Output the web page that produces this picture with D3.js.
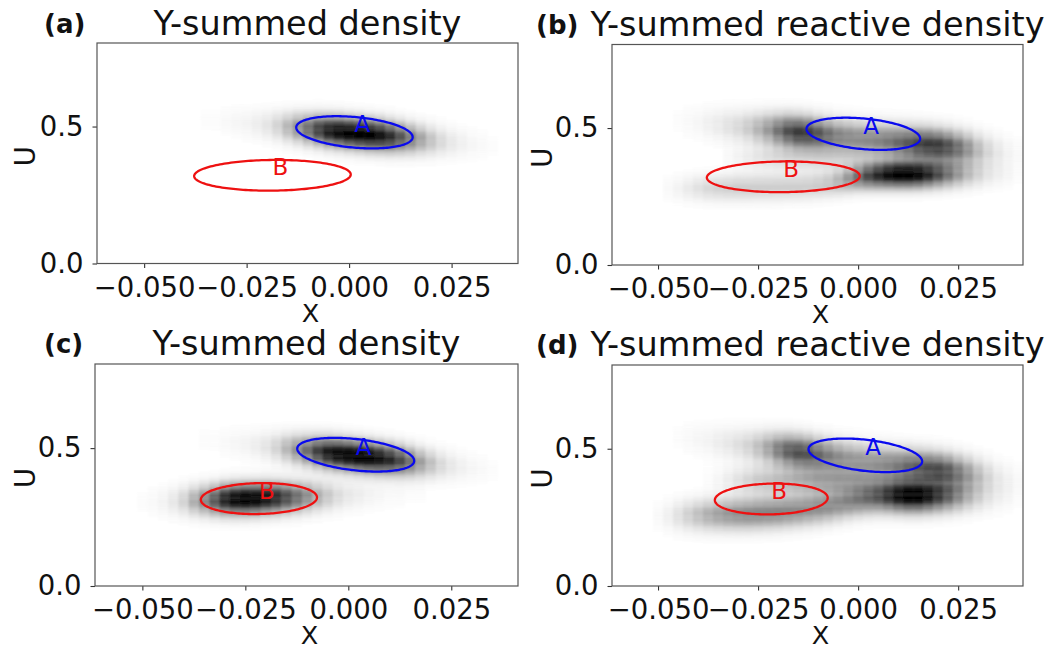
<!DOCTYPE html>
<html><head><meta charset="utf-8">
<script src="https://cdn.jsdelivr.net/npm/d3@7"></script>
<style>
body{margin:0;background:#fff}
svg{display:block}
text{font-family:"DejaVu Sans",sans-serif}
</style>
</head><body>
<svg id="fig" width="1056" height="651"></svg>
<script>
// ---------------- data ----------------
const colX = [-0.05,-0.0475,-0.045,-0.0425,-0.04,-0.0375,-0.035,-0.0325,-0.03,-0.0275,
  -0.025,-0.0225,-0.02,-0.0175,-0.015,-0.0125,-0.01,-0.0075,-0.005,-0.0025,
  0,0.0025,0.005,0.0075,0.01,0.0125,0.015,0.0175,0.02,0.0225,
  0.025,0.0275,0.03,0.0325,0.035,0.0375,0.04];
const xTicks = [-0.05,-0.025,0,0.025];
const uTicks = [0,0.5];
const panelLetters = ["(a)","(b)","(c)","(d)"];
const panelTitles = ["Y-summed density","Y-summed reactive density","Y-summed density","Y-summed reactive density"];
const regionNames = ["A","B"];

// panel (a): density band around A
const aA_u = [0.548,0.545,0.541,0.538,0.534,0.531,0.527,0.524,0.520,0.517,
  0.513,0.510,0.506,0.503,0.499,0.496,0.492,0.489,0.485,0.482,
  0.478,0.475,0.471,0.468,0.464,0.461,0.457,0.454,0.450,0.447,
  0.443,0.440,0.436,0.433,0.429,0.426,0.422];
const aA_p = [0,0,0,0,0,0,0.01,0.01,0.02,0.03,
  0.04,0.06,0.09,0.15,0.25,0.38,0.52,0.70,0.85,0.94,
  0.98,1.00,0.97,0.90,0.78,0.62,0.46,0.32,0.21,0.13,
  0.08,0.05,0.03,0.02,0.01,0,0];

// panel (b): reactive density, upper and lower bands
const bUp_u = [0.534,0.531,0.527,0.524,0.520,0.517,0.513,0.510,0.506,0.503,
  0.499,0.496,0.492,0.489,0.485,0.482,0.478,0.475,0.471,0.468,
  0.464,0.461,0.457,0.454,0.450,0.447,0.443,0.440,0.436,0.433,
  0.429,0.426,0.422,0.419,0.415,0.412,0.408];
const bUp_p = [0,0,0.01,0.02,0.03,0.05,0.07,0.10,0.13,0.18,
  0.26,0.36,0.50,0.64,0.72,0.70,0.62,0.52,0.45,0.42,
  0.41,0.42,0.44,0.48,0.54,0.60,0.68,0.72,0.72,0.64,
  0.52,0.38,0.24,0.14,0.08,0.04,0.02];
const bLo_u = [0.280,0.280,0.281,0.281,0.282,0.282,0.283,0.283,0.284,0.284,
  0.285,0.285,0.286,0.287,0.288,0.290,0.293,0.298,0.305,0.314,
  0.322,0.327,0.330,0.332,0.333,0.333,0.333,0.333,0.333,0.333,
  0.333,0.333,0.333,0.333,0.333,0.333,0.333];
const bLo_p = [0,0.02,0.04,0.07,0.10,0.13,0.15,0.16,0.17,0.17,
  0.17,0.17,0.17,0.17,0.17,0.17,0.18,0.20,0.26,0.36,
  0.50,0.66,0.80,0.92,1.00,1.00,0.94,0.80,0.64,0.48,
  0.34,0.22,0.14,0.08,0.05,0.03,0.01];
const bMid_p = [0,0,0,0,0,0,0,0.02,0.04,0.06,
  0.08,0.10,0.11,0.12,0.12,0.12,0.12,0.12,0.11,0.10,
  0.08,0.05,0.03,0.01,0,0,0,0,0,0,
  0,0,0,0,0,0,0];

// panel (c): density around A and around B
const cA_u = [0.556,0.552,0.548,0.544,0.540,0.536,0.532,0.528,0.524,0.520,
  0.516,0.512,0.508,0.504,0.500,0.496,0.492,0.488,0.484,0.480,
  0.476,0.472,0.468,0.464,0.460,0.456,0.452,0.448,0.444,0.440,
  0.436,0.432,0.428,0.424,0.420,0.416,0.412];
const cA_p = [0,0,0,0,0,0,0.01,0.01,0.02,0.03,
  0.04,0.06,0.09,0.15,0.25,0.38,0.52,0.70,0.86,0.95,
  0.99,1.00,0.97,0.90,0.80,0.66,0.50,0.34,0.22,0.13,
  0.08,0.05,0.03,0.02,0.01,0,0];
const cB_u = [0.305,0.306,0.307,0.308,0.310,0.311,0.312,0.313,0.315,0.316,
  0.317,0.318,0.320,0.321,0.322,0.323,0.325,0.326,0.327,0.328,
  0.330,0.331,0.332,0.333,0.335,0.336,0.337,0.338,0.340,0.341,
  0.342,0.343,0.345,0.346,0.347,0.348,0.350];
const cB_p = [0.01,0.02,0.04,0.08,0.15,0.28,0.42,0.60,0.82,0.95,
  1.00,0.97,0.90,0.80,0.66,0.52,0.40,0.28,0.19,0.12,
  0.08,0.06,0.04,0.03,0.02,0.02,0.01,0.01,0,0,
  0,0,0,0,0,0,0];

// panel (d): reactive density, upper, middle and lower bands
const dUp_u = [0.552,0.548,0.543,0.539,0.534,0.530,0.525,0.521,0.516,0.512,
  0.507,0.503,0.498,0.494,0.489,0.485,0.480,0.476,0.471,0.467,
  0.462,0.458,0.453,0.449,0.444,0.440,0.435,0.431,0.426,0.422,
  0.417,0.413,0.408,0.404,0.399,0.395,0.390];
const dUp_p = [0,0,0.01,0.02,0.03,0.04,0.06,0.08,0.11,0.15,
  0.22,0.32,0.46,0.58,0.64,0.62,0.54,0.46,0.40,0.36,
  0.35,0.35,0.37,0.40,0.45,0.52,0.58,0.62,0.64,0.58,
  0.46,0.34,0.22,0.13,0.07,0.04,0.02];
const dMid_p = [0,0,0,0,0,0.01,0.03,0.06,0.10,0.14,
  0.18,0.20,0.22,0.24,0.26,0.28,0.30,0.30,0.30,0.28,
  0.25,0.20,0.15,0.10,0.06,0.03,0,0,0,0,
  0,0,0,0,0,0,0];
const dLo_u = [0.255,0.256,0.257,0.258,0.259,0.260,0.261,0.262,0.263,0.264,
  0.266,0.268,0.270,0.273,0.276,0.280,0.285,0.291,0.298,0.306,
  0.314,0.321,0.326,0.329,0.330,0.330,0.330,0.330,0.330,0.330,
  0.330,0.330,0.330,0.330,0.330,0.330,0.330];
const dLo_p = [0.02,0.05,0.10,0.16,0.22,0.28,0.33,0.37,0.40,0.42,
  0.43,0.43,0.43,0.42,0.41,0.40,0.40,0.40,0.40,0.42,
  0.46,0.52,0.60,0.74,0.90,1.00,1.00,0.88,0.72,0.56,
  0.40,0.26,0.16,0.09,0.05,0.03,0.01];

// ellipses: [centre x, centre u, half-width in x, half-height in u, tilt du/dx]
const ellTopA = [0.0013, 0.479, 0.0142, 0.056, -1.25];
const ellTopB = [-0.0187, 0.322, 0.0191, 0.056, 0.15];
const ellBotA = [0.0018, 0.476, 0.0142, 0.057, -1.55];
const ellBotB = [-0.0217, 0.317, 0.0141, 0.056, 0.3];

// ---------------- layout ----------------
const xDomain = [-0.0615, 0.0412];
const uDomain = [0, 0.805];
const boxes = [
  {l:97, r:518, t:43, b:263.5, titleY:35, left:true},
  {l:612, r:1023, t:44.5, b:265, titleY:36, left:false},
  {l:95, r:518, t:364, b:586, titleY:355, left:true},
  {l:612, r:1023, t:365, b:586, titleY:356, left:false}
];
const panels = [
  {bands:[{u:aA_u, p:aA_p, s:0.036}], ells:[ellTopA, ellTopB]},
  {bands:[{u:bUp_u, p:bUp_p, s:0.040},{u:bLo_u, p:bLo_p, s:0.032},{u:0.39, p:bMid_p, s:0.03}], ells:[ellTopA, ellTopB]},
  {bands:[{u:cA_u, p:cA_p, s:0.036},{u:cB_u, p:cB_p, s:0.036}], ells:[ellBotA, ellBotB]},
  {bands:[{u:dUp_u, p:dUp_p, s:0.040},{u:dLo_u, p:dLo_p, s:0.038},{u:0.385, p:dMid_p, s:0.035}], ells:[ellBotA, ellBotB]}
];
const ellColors = ["#0a0aee","#ee1111"];

const svg = d3.select("#fig");
const defs = svg.append("defs");
defs.append("filter").attr("id","hblur").attr("x","-10%").attr("y","-10%").attr("width","120%").attr("height","120%")
  .append("feGaussianBlur").attr("stdDeviation","1.3 0.5");

const fmtX = v => (v < 0 ? "\u2212" : "") + Math.abs(v).toFixed(3);
const fmtU = v => v.toFixed(1);
const binW = 0.0025;
const uStep = 0.004;

panels.forEach((pan, k) => {
  const bx = boxes[k];
  const x = d3.scaleLinear().domain(xDomain).range([bx.l, bx.r]);
  const y = d3.scaleLinear().domain(uDomain).range([bx.b, bx.t]);
  const g = svg.append("g");

  defs.append("clipPath").attr("id","clip"+k).append("rect")
    .attr("x",bx.l).attr("y",bx.t).attr("width",bx.r-bx.l).attr("height",bx.b-bx.t);

  // heatmap cells
  const cells = [];
  colX.forEach((cx, i) => {
    for (let u = 0.1; u <= 0.7; u += uStep) {
      let d = 0;
      pan.bands.forEach(bd => {
        const pk = bd.p[i] || 0;
        const uc = Array.isArray(bd.u) ? bd.u[i] : bd.u;
        if (pk > 0) d += pk * Math.exp(-((u-uc)*(u-uc))/(2*bd.s*bd.s));
      });
      d = Math.min(1, d);
      if (d > 0.006) cells.push({x:cx, u:u, d:d});
    }
  });
  const hm = g.append("g").attr("clip-path","url(#clip"+k+")")
    .append("g").attr("filter","url(#hblur)");
  hm.selectAll("rect").data(cells).enter().append("rect")
    .attr("x", c => x(c.x - binW/2))
    .attr("width", c => x(c.x + binW/2) - x(c.x - binW/2) + 0.3)
    .attr("y", c => y(c.u + uStep/2))
    .attr("height", c => y(c.u - uStep/2) - y(c.u + uStep/2) + 0.4)
    .attr("fill", c => { const v = Math.round(255*Math.pow(1-c.d, 1.15)); return `rgb(${v},${v},${v})`; });

  // ellipses
  const line = d3.line().x(p => x(p[0])).y(p => y(p[1])).curve(d3.curveLinearClosed);
  pan.ells.forEach((e, j) => {
    const pts = d3.range(0, 2*Math.PI, Math.PI/90).map(t => [
      e[0] + e[2]*Math.cos(t),
      e[1] + e[3]*Math.sin(t) + e[4]*e[2]*Math.cos(t)
    ]);
    g.append("path").attr("d", line(pts)).attr("fill","none")
      .attr("stroke", ellColors[j]).attr("stroke-width", 2.3);
    g.append("text").attr("x", x(e[0])).attr("y", y(e[1]))
      .attr("font-size", 23).attr("fill", ellColors[j]).text(regionNames[j]);
  });

  // axes
  const xAxis = d3.axisBottom(x).tickValues(xTicks).tickFormat(fmtX).tickSize(4.5).tickPadding(9);
  const yAxis = d3.axisLeft(y).tickValues(uTicks).tickFormat(fmtU).tickSize(4.5).tickPadding(9);
  const gx = g.append("g").attr("transform",`translate(0,${bx.b})`).call(xAxis);
  const gy = g.append("g").attr("transform",`translate(${bx.l},0)`).call(yAxis);
  [gx, gy].forEach(a => {
    a.select(".domain").remove();
    a.selectAll("line").attr("stroke","#333").attr("stroke-width",1.1);
    a.selectAll("text").attr("font-family","DejaVu Sans").attr("font-size",27.5).attr("fill","#111");
  });
  // frame
  g.append("rect").attr("x",bx.l).attr("y",bx.t).attr("width",bx.r-bx.l).attr("height",bx.b-bx.t)
    .attr("fill","none").attr("stroke","#555").attr("stroke-width",1.2);

  // titles & labels
  const mid = (bx.l + bx.r)/2;
  g.append("text").attr("x", mid).attr("y", bx.titleY).attr("text-anchor","middle")
    .attr("font-size", 33.5).attr("fill","#111").text(panelTitles[k]);
  g.append("text").attr("x", bx.left ? 44 : 536).attr("y", bx.titleY - 2.5)
    .attr("font-size", 26).attr("font-weight","bold").attr("fill","#111").text(panelLetters[k]);
  g.append("text").attr("x", mid + 3).attr("y", bx.b + 58).attr("text-anchor","middle")
    .attr("font-size", 25.5).attr("fill","#111").text("X");
  g.append("text").attr("transform", `translate(${bx.left ? 35 : 552},${(bx.t+bx.b)/2 + 3}) rotate(-90)`)
    .attr("text-anchor","middle").attr("font-size", 28).attr("fill","#111").text("U");
});
</script>
</body></html>
